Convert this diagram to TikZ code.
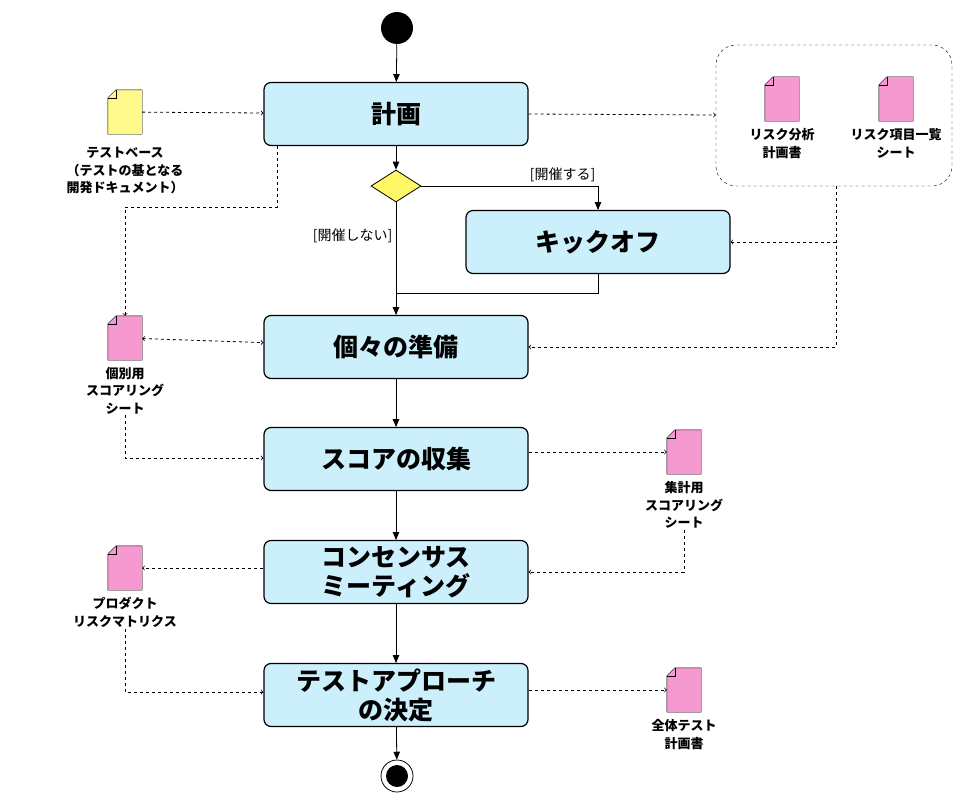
\documentclass[tikz,border=0pt]{standalone}
\usepackage{fontspec}
\newfontfamily\jp{Noto Sans CJK JP}
\usetikzlibrary{positioning}
\usetikzlibrary{calc}
\usetikzlibrary{shapes.geometric}
\usetikzlibrary{arrows}
\tikzset{
    % Rounded activity box
    action/.style={draw, very thick, rounded corners=7pt, fill=cyan!20,
        minimum width=264pt, minimum height=63pt, align=center,
        font=\jp\bfseries\fontsize{25}{29}\selectfont},
%
    % Solid flow and dashed object flow
    flow/.style={->, >=triangle 45, thick},
    object flow/.style={->, >=to, dashed, thick},
%
    % Small bold labels
    doc label/.style={align=center, inner sep=1pt,
        font=\jp\bfseries\fontsize{13}{17.5}\selectfont},
    guard/.style={font=\jp\fontsize{14}{16}\selectfont}}

% Document icon with folded corner, name #1 at #2, fill #3
\newcommand{\docicon}[3]{
\node [minimum width=34pt, minimum height=44pt, inner sep=0] (#1) at (#2) {};
\draw [fill=#3] ($(#1.north west)+(0,-8pt)$) -- ($(#1.north west)+(8pt,0)$)
    -- (#1.north east) -- (#1.south east) -- (#1.south west) -- cycle;
\draw ($(#1.north west)+(0,-8pt)$) -- ($(#1.north west)+(8pt,-8pt)$)
    -- ($(#1.north west)+(8pt,0)$);
}

\begin{document}
\begin{tikzpicture}[x=1pt, y=-1pt]
\useasboundingbox (0,0) rectangle (961,800);

% Main flow
\node [circle, fill=black, minimum size=32pt, inner sep=0] (start) at (397,28) {};
\node [action] (plan) at (396,114) {計画};
\node [diamond, draw, thick, fill=yellow!60, minimum width=50pt,
    minimum height=32pt, inner sep=0] (choice) at (396,186) {};
\node [action] (kickoff) at (598,242) {キックオフ};
\node [action] (prepare) at (396,347) {個々の準備};
\node [action] (collect) at (396,459) {スコアの収集};
\node [action] (consensus) at (396,572) {コンセンサス\\ミーティング};
\node [action] (decide) at (396,695) {テストアプローチ\\の決定};
\node [circle, draw, thick, minimum size=32pt, inner sep=0] (end) at (397,776) {};
\node [circle, fill=black, minimum size=22pt, inner sep=0] at (end) {};

\draw [flow] (start) -- (plan);
\draw [flow] (plan) -- (choice);
\draw [flow] (choice.east) -| (kickoff.north)
    node [guard, pos=0.4, above] {[開催する]};
\draw [flow] (choice.south) -- (prepare.north)
    node [guard, pos=0.3, left] {[開催しない]};
\coordinate (merge) at (396,293);
\draw [thick] (kickoff.south) |- (merge);
\draw [flow] (prepare) -- (collect);
\draw [flow] (collect) -- (consensus);
\draw [flow] (consensus) -- (decide);
\draw [flow] (decide) -- (end);

% Test basis
\docicon{basis}{125,112}{yellow!45}
\node [doc label, below=12pt of basis] (basis text)
    {テストベース\\（テストの基となる\\開発ドキュメント）};
\draw [object flow] (basis) -- (plan);

% Risk documents group
\draw [dashed, rounded corners=20pt] (716,45) rectangle (952,186);
\node (risk group) at (834,115) [minimum width=236pt, minimum height=141pt] {};
\docicon{risk plan}{782,99}{magenta!40}
\docicon{risk list}{896,99}{magenta!40}
\node [doc label, below=6pt of risk plan] {リスク分析\\計画書};
\node [doc label, below=6pt of risk list] {リスク項目一覧\\シート};
\draw [object flow] (plan.east) -- (risk group.west);
\coordinate (risk out) at (836,347);
\draw [object flow] (risk group.south -| risk out) -- (risk out) -- (prepare.east);
\draw [object flow] (836,242) -- (kickoff.east);

% Individual scoring sheet
\docicon{own sheet}{125,338}{magenta!40}
\node [doc label, below=6pt of own sheet] (own text) {個別用\\スコアリング\\シート};
\coordinate (own turn) at (277,207);
\draw [object flow] (plan.south -| own turn) -- (own turn) -| (own sheet.north);
\draw [object flow, <->] (own sheet) -- (prepare);
\draw [object flow] (own text.south) |- (collect.west |- 0,458);

% Total scoring sheet
\docicon{sum sheet}{684,452}{magenta!40}
\node [doc label, below=6pt of sum sheet] (sum text) {集計用\\スコアリング\\シート};
\draw [object flow] (collect.east |- sum sheet) -- (sum sheet);
\draw [object flow] (sum text.south) |- (consensus.east);

% Product risk matrix
\docicon{matrix}{125,568}{magenta!40}
\node [doc label, below=6pt of matrix] (matrix text) {プロダクト\\リスクマトリクス};
\draw [object flow] (consensus.west |- matrix) -- (matrix);
\draw [object flow] (matrix text.south) |- (decide.west |- 0,692);

% Overall test plan
\docicon{test plan}{684,690}{magenta!40}
\node [doc label, below=6pt of test plan] {全体テスト\\計画書};
\draw [object flow] (decide.east |- test plan) -- (test plan);

\end{tikzpicture}
\end{document}
